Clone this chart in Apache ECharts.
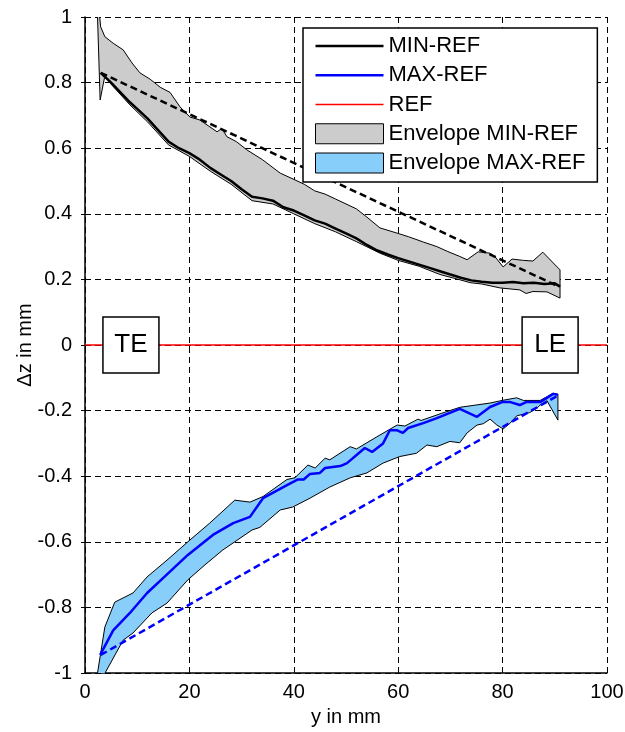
<!DOCTYPE html>
<html>
<head>
<meta charset="utf-8">
<script src="https://cdn.jsdelivr.net/npm/echarts@6/dist/echarts.min.js"></script>
<style>
  html, body { margin: 0; padding: 0; background: #fff; }
  #chart { width: 625px; height: 732px; }
</style>
</head>
<body>
<div id="chart"></div>
<script>
const FONT = '"Liberation Sans", Arial, Helvetica, sans-serif';

// Axis ticks
const xTicks = [0, 20, 40, 60, 80, 100];
const yTicks = [-1, -0.8, -0.6, -0.4, -0.2, 0, 0.2, 0.4, 0.6, 0.8, 1];

// Mean deviation MIN-REF along the span, [y in mm, dz in mm]
const minRef = [
  [3, 0.83], [5, 0.80], [8.6, 0.74], [10, 0.72], [12, 0.69], [14, 0.655], [16, 0.62],
  [18, 0.60], [20, 0.585], [22, 0.565], [24, 0.54], [26, 0.52], [28, 0.50], [30, 0.475],
  [32, 0.452], [34, 0.447], [36, 0.44], [38, 0.42], [40, 0.41], [42, 0.395], [44, 0.38],
  [46, 0.37], [48, 0.355], [50, 0.34], [52, 0.325], [54, 0.305], [56, 0.288], [58, 0.276],
  [60, 0.265], [62, 0.255], [64, 0.245], [66, 0.235], [68, 0.225], [70, 0.215], [72, 0.205],
  [74, 0.197], [76, 0.193], [78, 0.19], [80, 0.19], [82, 0.192], [84, 0.188], [86, 0.19],
  [88, 0.186], [90, 0.188], [91, 0.178]
];

// Mean deviation MAX-REF along the span
const maxRef = [
  [2.9, -0.945], [5.4, -0.87], [8.6, -0.817], [11.9, -0.756], [15, -0.71], [19.7, -0.64],
  [24.5, -0.579], [28.4, -0.543], [31.6, -0.524], [34.1, -0.467], [38.7, -0.427],
  [40.8, -0.41], [41.9, -0.41], [43.1, -0.393], [45, -0.39], [46, -0.375], [48.9, -0.369],
  [50.2, -0.36], [53.6, -0.314], [55, -0.326], [57.1, -0.30], [58.4, -0.26], [59.8, -0.26],
  [60.9, -0.268], [61.9, -0.253], [64.8, -0.238], [67.4, -0.223], [68, -0.219],
  [71.8, -0.195], [75.1, -0.219], [77.6, -0.189], [79.9, -0.174], [81.5, -0.174],
  [83.3, -0.183], [84.5, -0.174], [87.2, -0.174], [89.7, -0.149], [90.6, -0.152]
];

// Envelope MIN-REF: upper and lower bounds
const minEnvUpper = [
  [2.2, 1.1], [3, 0.97], [3.8, 0.94], [5.4, 0.92], [7.3, 0.90], [9, 0.86], [10.5, 0.83],
  [12.5, 0.81], [14.4, 0.786], [16.3, 0.77], [18.2, 0.726], [20.1, 0.695], [22, 0.686],
  [25.3, 0.65], [26.2, 0.66], [27.2, 0.635], [29, 0.62], [31, 0.595], [34, 0.565],
  [37.4, 0.524], [40, 0.505], [42, 0.49], [44, 0.47], [46, 0.46], [48, 0.445], [50, 0.43],
  [52, 0.415], [54, 0.39], [56.5, 0.357], [59.8, 0.341], [62, 0.33], [64.8, 0.314],
  [67.4, 0.30], [69.5, 0.285], [71.8, 0.27], [73.2, 0.26], [75.3, 0.284], [77.6, 0.28],
  [78.5, 0.27], [80.1, 0.238], [81.8, 0.262], [84, 0.258], [85.8, 0.256], [87.7, 0.283],
  [91, 0.229]
];
const minEnvLower = [
  [2.2, 1.1], [2.9, 0.747], [3.8, 0.82], [5, 0.795], [8.6, 0.732], [12, 0.68], [16, 0.61],
  [20, 0.575], [24, 0.53], [28, 0.49], [32, 0.44], [36, 0.43], [40, 0.40], [44, 0.37],
  [48, 0.345], [52, 0.315], [56.5, 0.28], [60, 0.258], [64, 0.24], [68, 0.215], [72, 0.198],
  [73.8, 0.19], [76, 0.186], [79.5, 0.174], [83.3, 0.168], [84.5, 0.157], [85.8, 0.163],
  [88.5, 0.162], [91, 0.143]
];

// Envelope MAX-REF: upper and lower bounds
const maxEnvUpper = [
  [2.1, -1.03], [3.8, -0.86], [5.7, -0.784], [9.2, -0.756], [11.9, -0.707], [15.7, -0.656],
  [19.7, -0.60], [23.9, -0.543], [28.7, -0.473], [31.6, -0.479], [34.1, -0.462],
  [38.7, -0.41], [40.2, -0.405], [42.7, -0.366], [44.1, -0.375], [46, -0.345],
  [46.9, -0.35], [50.8, -0.31], [52, -0.317], [55.9, -0.28], [59.8, -0.244], [61.3, -0.247],
  [63.8, -0.226], [64.4, -0.23], [68, -0.21], [71.8, -0.19], [77.6, -0.177], [79.9, -0.169],
  [82.7, -0.161], [84, -0.169], [87.2, -0.169], [89.7, -0.147], [90.6, -0.15]
];
const maxEnvLower = [
  [3.5, -1.01], [7.3, -0.90], [9.2, -0.878], [12.8, -0.817], [15.7, -0.787], [19.7, -0.716],
  [23, -0.67], [26.4, -0.625], [32, -0.564], [33.5, -0.556], [37.4, -0.503], [39.8, -0.494],
  [43.1, -0.467], [46.9, -0.433], [50.8, -0.405], [54, -0.39], [57.1, -0.36], [60.3, -0.34],
  [63.5, -0.33], [65.5, -0.305], [67.4, -0.31], [69.9, -0.294], [71.8, -0.298],
  [73.2, -0.268], [75.1, -0.244], [76.3, -0.24], [77.6, -0.226], [78.9, -0.244],
  [80.1, -0.256], [81.4, -0.239], [82.7, -0.216], [85.2, -0.206], [86.6, -0.192],
  [87.2, -0.183], [88.5, -0.17], [90.6, -0.229]
];

// Straight chords between the end points
const minChord = [[3, 0.83], [90.5, 0.18]];
const maxChord = [[3, -0.945], [90.5, -0.155]];
const refLine = [[0, 0], [100, 0]];

// Trailing / leading edge markers
const edgeMarks = [
  { name: 'TE', value: [8.8, 0] },
  { name: 'LE', value: [89.1, 0] }
];

function envelopeRenderer(upper, lower) {
  return function (params, api) {
    const pts = upper.concat(lower.slice().reverse()).map(p => api.coord(p));
    return {
      type: 'polygon',
      shape: { points: pts },
      style: { fill: api.visual('color'), stroke: '#000', lineWidth: 1, lineJoin: 'round' }
    };
  };
}

// Legend key drawn as a plain horizontal stroke of the given thickness
const strokeIcon = t => 'path://M0,0L68,0L68,' + t + 'L0,' + t + 'Z';

const fmt = v => String(Math.round(v * 10) / 10);
const gridDash = { color: '#000', width: 1, type: [6, 4] };

const chart = echarts.init(document.getElementById('chart'), null, { renderer: 'canvas' });
chart.setOption({
  animation: false,
  backgroundColor: '#fff',
  textStyle: { fontFamily: FONT, color: '#000' },
  grid: { left: 85, right: 18, top: 17, bottom: 59, containLabel: false, outerBoundsMode: 'none' },
  xAxis: [
    {
      type: 'value', min: xTicks[0], max: xTicks[xTicks.length - 1], interval: xTicks[1] - xTicks[0],
      name: 'y in mm', nameLocation: 'middle', nameGap: 34, nameMoveOverlap: false,
      nameTextStyle: { fontSize: 20, color: '#000', fontFamily: FONT },
      axisLine: { show: true, onZero: false, lineStyle: { color: '#000', width: 1.5 } },
      axisTick: { show: true, inside: true, length: 5, lineStyle: { color: '#000' } },
      axisLabel: { fontSize: 20, color: '#000', margin: 9, fontFamily: FONT },
      splitLine: { show: true, lineStyle: gridDash }
    },
    {
      type: 'value', position: 'top', min: xTicks[0], max: xTicks[xTicks.length - 1],
      interval: xTicks[1] - xTicks[0],
      axisLine: { show: false }, axisLabel: { show: false }, splitLine: { show: false },
      axisTick: { show: true, inside: true, length: 4, lineStyle: { color: '#000' } }
    }
  ],
  yAxis: [
    {
      type: 'value', min: yTicks[0], max: yTicks[yTicks.length - 1], interval: 0.2,
      name: 'Δz in mm', nameLocation: 'middle', nameGap: 50, nameMoveOverlap: false,
      nameTextStyle: { fontSize: 20, color: '#000', fontFamily: FONT },
      axisLine: { show: true, onZero: false, lineStyle: { color: '#000', width: 1.5 } },
      axisTick: { show: true, inside: true, length: 5, lineStyle: { color: '#000' } },
      axisLabel: { fontSize: 20, color: '#000', margin: 13, fontFamily: FONT, formatter: fmt },
      splitLine: { show: true, lineStyle: gridDash }
    },
    {
      type: 'value', position: 'right', min: yTicks[0], max: yTicks[yTicks.length - 1], interval: 0.2,
      axisLine: { show: false }, axisLabel: { show: false }, splitLine: { show: false },
      axisTick: { show: true, inside: true, length: 4, lineStyle: { color: '#000' } }
    }
  ],
  legend: {
    orient: 'vertical', left: 303, top: 28,
    padding: [7, 12, 8, 12], itemWidth: 68, itemHeight: 20, itemGap: 7.25,
    backgroundColor: '#fff', borderColor: '#000', borderWidth: 1.5, borderRadius: 0,
    textStyle: { fontSize: 22, lineHeight: 20, color: '#000', fontFamily: FONT },
    z: 20,
    data: [
      { name: 'MIN-REF', icon: strokeIcon(2.5), itemStyle: { color: '#000' } },
      { name: 'MAX-REF', icon: strokeIcon(2.5), itemStyle: { color: '#0000ff' } },
      { name: 'REF', icon: strokeIcon(1.5), itemStyle: { color: '#ff0000' } },
      { name: 'Envelope MIN-REF', icon: 'rect', itemStyle: { color: '#cccccc', borderColor: '#000', borderWidth: 1 } },
      { name: 'Envelope MAX-REF', icon: 'rect', itemStyle: { color: '#87cefa', borderColor: '#000', borderWidth: 1 } }
    ]
  },
  series: [
    {
      name: 'Envelope MIN-REF', type: 'custom', clip: true, silent: true, z: 1,
      renderItem: envelopeRenderer(minEnvUpper, minEnvLower),
      itemStyle: { color: '#cccccc', borderColor: '#000', borderWidth: 1 },
      data: [[50, 0.5]]
    },
    {
      name: 'Envelope MAX-REF', type: 'custom', clip: true, silent: true, z: 1,
      renderItem: envelopeRenderer(maxEnvUpper, maxEnvLower),
      itemStyle: { color: '#87cefa', borderColor: '#000', borderWidth: 1 },
      data: [[50, -0.5]]
    },
    {
      name: 'MIN-REF', type: 'line', data: minRef, symbol: 'none', color: '#000', z: 3,
      lineStyle: { color: '#000', width: 2.5 }
    },
    {
      name: 'MAX-REF', type: 'line', data: maxRef, symbol: 'none', color: '#0000ff', z: 3,
      lineStyle: { color: '#0000ff', width: 2.5 }
    },
    {
      type: 'line', data: minChord, symbol: 'none', silent: true, z: 4,
      lineStyle: { color: '#000', width: 2.5, type: [7, 4] }
    },
    {
      type: 'line', data: maxChord, symbol: 'none', silent: true, z: 4,
      lineStyle: { color: '#0000ff', width: 2.5, type: [7, 4] }
    },
    {
      name: 'REF', type: 'line', data: refLine, symbol: 'none', color: '#ff0000', z: 5,
      lineStyle: { color: '#ff0000', width: 1.5 }
    },
    {
      type: 'scatter', data: edgeMarks, symbol: 'rect', symbolSize: 56, silent: true, z: 10,
      itemStyle: { color: '#fff', borderColor: '#000', borderWidth: 1.5, opacity: 1 },
      label: {
        show: true, position: 'inside', formatter: '{b}',
        fontSize: 26, color: '#000', fontFamily: FONT,
        textBorderWidth: 0
      }
    }
  ]
});
</script>
</body>
</html>
